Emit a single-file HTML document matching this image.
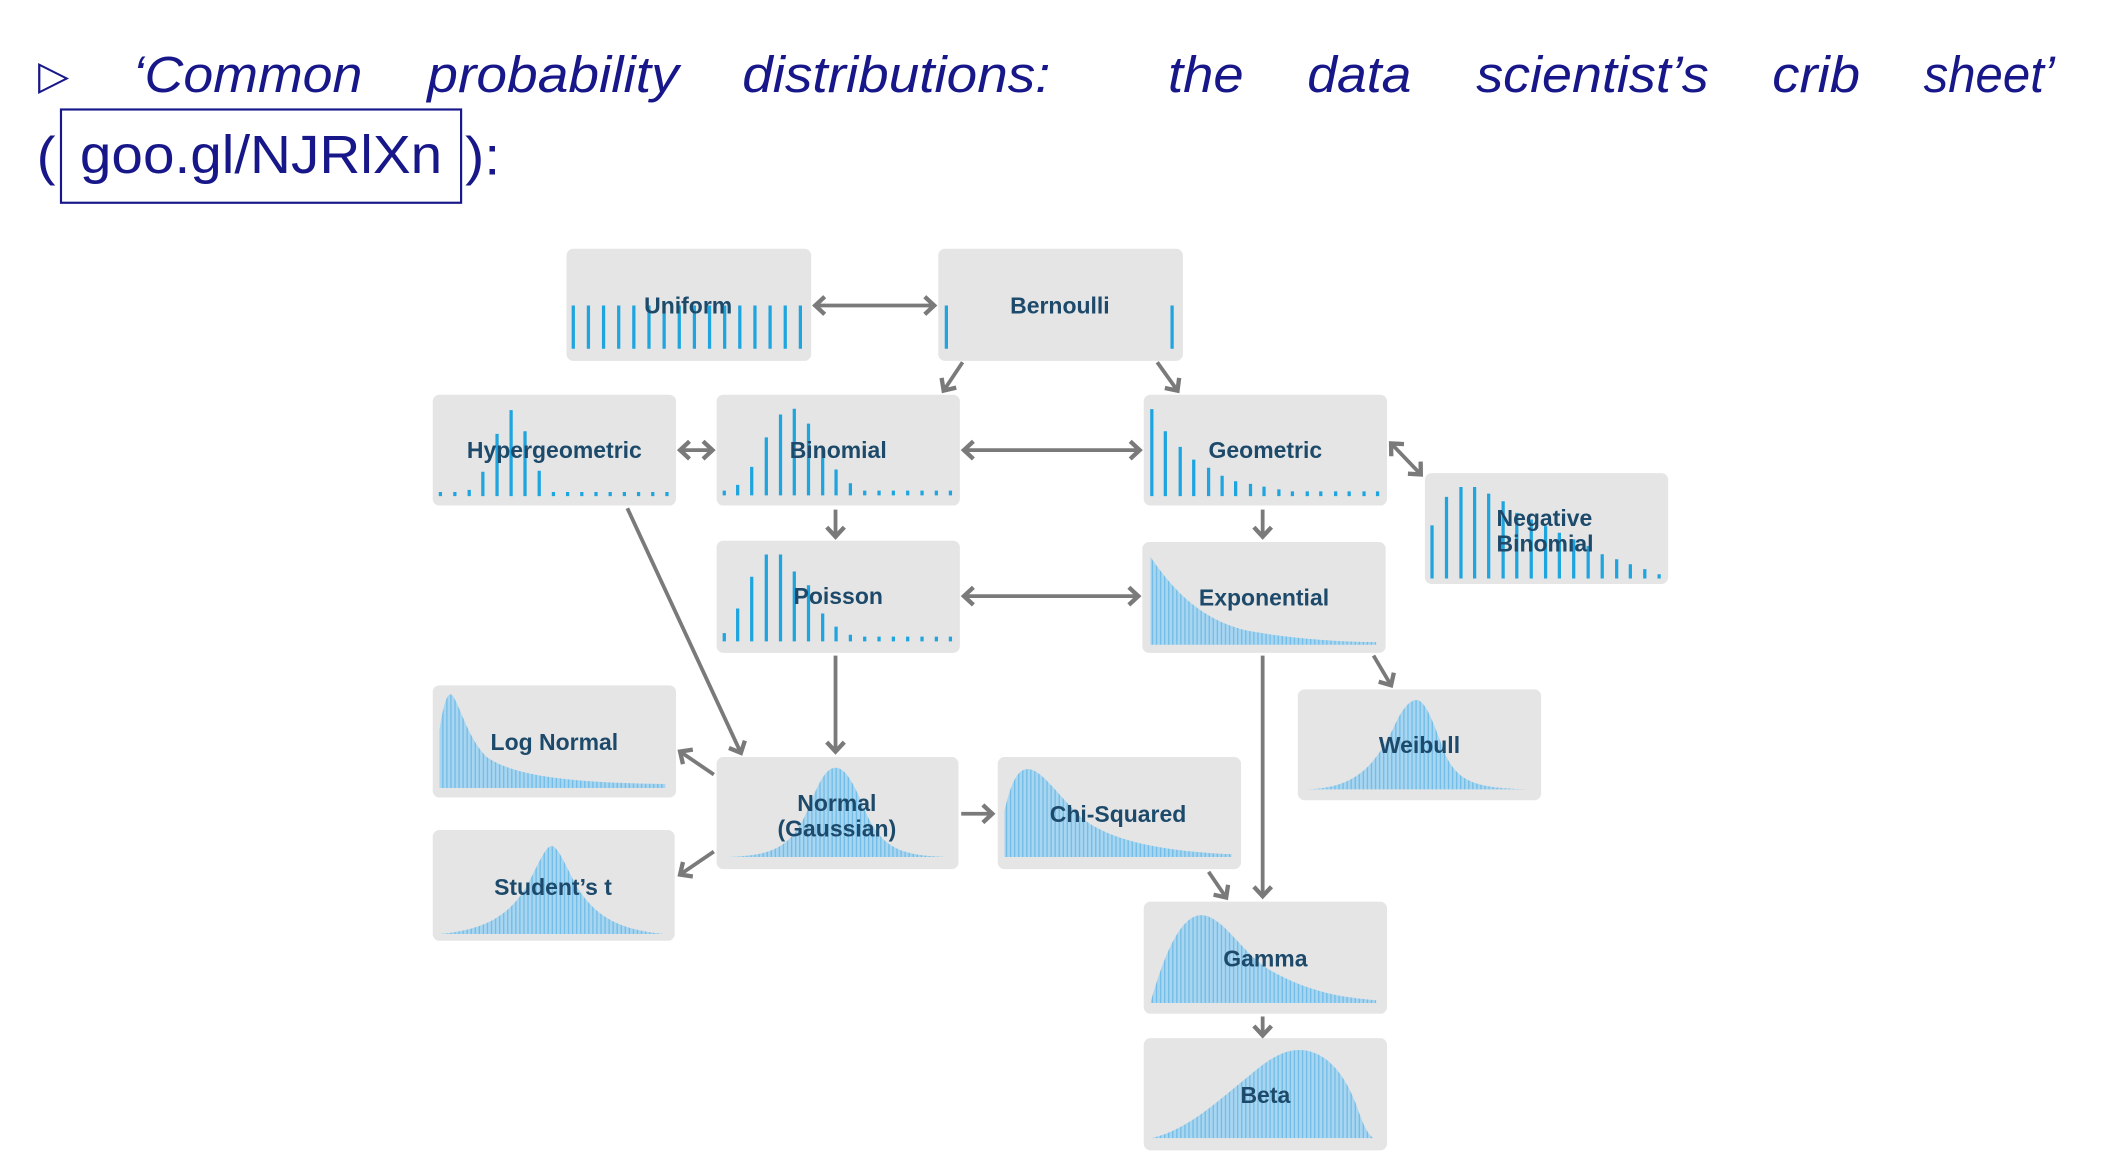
<!DOCTYPE html>
<html><head><meta charset="utf-8"><style>
html,body{margin:0;padding:0;background:#fff;width:2109px;height:1176px;overflow:hidden}
svg{display:block}
.b{fill:#e5e5e5}
.l{font-family:"Liberation Sans",sans-serif;font-weight:bold;font-size:17px;fill:#1d4a6a;text-anchor:middle}
.bar{stroke:#1ea4de;stroke-width:2.4;fill:none}
.c{fill:url(#hatch)}
.a{stroke:#7a7a7a;stroke-width:2.8;fill:none}
.t{font-family:"Liberation Sans",sans-serif;font-style:italic;font-size:38px;fill:#17178a}
.u{font-family:"Liberation Sans",sans-serif;font-size:40px;fill:#17178a}
</style></head><body>
<svg width="2109" height="1176" viewBox="0 0 1560 870" xmlns="http://www.w3.org/2000/svg">
<defs>
<pattern id="hatch" width="3" height="10" patternUnits="userSpaceOnUse">
<rect width="3" height="10" fill="#a8d5f0"/><rect width="1" height="10" fill="#74bde6"/>
</pattern>
<marker id="m" markerWidth="14" markerHeight="16" refX="9" refY="8" orient="auto-start-reverse" markerUnits="userSpaceOnUse">
<path d="M2,1.5 L9,8 L2,14.5" stroke="#7a7a7a" stroke-width="3.2" fill="none"/>
</marker>
</defs>

<text x="28" y="66" class="u" style="font-size:30px">▷</text>
<text x="98" y="68" class="t" textLength="170" lengthAdjust="spacingAndGlyphs">‘Common</text>
<text x="316" y="68" class="t" textLength="186" lengthAdjust="spacingAndGlyphs">probability</text>
<text x="549" y="68" class="t" textLength="228" lengthAdjust="spacingAndGlyphs">distributions:</text>
<text x="864" y="68" class="t" textLength="56" lengthAdjust="spacingAndGlyphs">the</text>
<text x="967" y="68" class="t" textLength="77" lengthAdjust="spacingAndGlyphs">data</text>
<text x="1092" y="68" class="t" textLength="172" lengthAdjust="spacingAndGlyphs">scientist’s</text>
<text x="1311" y="68" class="t" textLength="65" lengthAdjust="spacingAndGlyphs">crib</text>
<text x="1423" y="68" class="t" textLength="97" lengthAdjust="spacingAndGlyphs">sheet’</text>
<text x="27" y="129" class="u" textLength="14" lengthAdjust="spacingAndGlyphs">(</text>
<rect x="45" y="81" width="296" height="69" fill="none" stroke="#17178a" stroke-width="1.6"/>
<text x="59" y="128" class="u" textLength="268" lengthAdjust="spacingAndGlyphs">goo.gl/NJRlXn</text>
<text x="344" y="129" class="u" textLength="26" lengthAdjust="spacingAndGlyphs">):</text>

<rect class="b" x="419" y="184" width="181" height="83" rx="5"/>
<rect class="b" x="694" y="184" width="181" height="83" rx="5"/>
<rect class="b" x="320" y="292" width="180" height="82" rx="5"/>
<rect class="b" x="530" y="292" width="180" height="82" rx="5"/>
<rect class="b" x="846" y="292" width="180" height="82" rx="5"/>
<rect class="b" x="1054" y="350" width="180" height="82" rx="5"/>
<rect class="b" x="530" y="400" width="180" height="83" rx="5"/>
<rect class="b" x="845" y="401" width="180" height="82" rx="5"/>
<rect class="b" x="320" y="507" width="180" height="83" rx="5"/>
<rect class="b" x="960" y="510" width="180" height="82" rx="5"/>
<rect class="b" x="530" y="560" width="179" height="83" rx="5"/>
<rect class="b" x="738" y="560" width="180" height="83" rx="5"/>
<rect class="b" x="320" y="614" width="179" height="82" rx="5"/>
<rect class="b" x="846" y="667" width="180" height="83" rx="5"/>
<rect class="b" x="846" y="768" width="180" height="83" rx="5"/>

<path class="bar" d="M424,226V258M435.2,226V258M446.4,226V258M457.6,226V258M468.8,226V258M480,226V258M491.2,226V258M502.4,226V258M513.6,226V258M524.8,226V258M536,226V258M547.2,226V258M558.4,226V258M569.6,226V258M580.8,226V258M592,226V258"/>
<path class="bar" d="M700,226V258M867,226V258"/>
<path class="bar" d="M325.7,364V367M336.4,364V367M347,362.4V367M357.1,349V367M367.6,321V367M378,303.4V367M388.3,319V367M398.8,348.3V367M409.3,364V367M419.8,364V367M430.3,364V367M440.8,364V367M451.3,364V367M461.8,364V367M472.3,364V367M482.8,364V367M493.3,364V367"/>
<path class="bar" d="M535.7,363V366.5M545.6,358.7V366.5M556,345.4V366.5M566.8,323.6V366.5M577.3,306.6V366.5M587.5,302.4V366.5M598,313.4V366.5M608.5,332V366.5M618.4,347.3V366.5M629,357.5V366.5M639.6,363V366.5M650.2,363V366.5M660.8,363V366.5M671.4,363V366.5M682,363V366.5M692.6,363V366.5M703,363V366.5"/>
<path class="bar" d="M852,302.7V367M862,319V367M873,330.6V367M883,340V367M894,346V367M904,352V367M914,356V367M925,358V367M935,360V367M946,362V367M956,363.5V367M967,363.5V367M977,363.5V367M988,363.5V367M998,363.5V367M1009,363.5V367M1019,363.5V367"/>
<path class="bar" d="M1059.3,388.7V428M1070,367.6V428M1080.7,360.3V428M1090.8,360.3V428M1101.2,365.2V428M1111.9,370.8V428M1122,379.4V428M1132.7,384.3V428M1143.3,389.2V428M1153.5,394.1V428M1164.1,399V428M1174.8,403.9V428M1185.2,410V428M1195.9,413.7V428M1206,417.4V428M1216.7,421V428M1227.3,424.8V428"/>
<path class="bar" d="M535.7,468.4V474.5M545.6,450.2V474.5M556,426.7V474.5M566.8,410.2V474.5M577.3,410.2V474.5M587.5,422.8V474.5M598,433V474.5M608.5,453.9V474.5M618.4,463.6V474.5M629,469.6V474.5M639.6,471V474.5M650.2,471V474.5M660.8,471V474.5M671.4,471V474.5M682,471V474.5M692.6,471V474.5M703,471V474.5"/>

<path class="c" d="M851,477V412C870,440 890,458 920,466C950,472 990,475 1018,475V477Z"/>
<path class="c" d="M325,583V540C328,520 331,512 334,514C340,520 345,545 360,560C380,574 420,579 492,580V583Z"/>
<path class="c" d="M966,584C1000,583 1015,570 1030,540C1038,522 1044,517 1049,518C1056,520 1062,540 1070,560C1080,580 1095,583 1132,584Z"/>
<path class="c" d="M537,634C570,633 585,628 597,600C607,575 612,568 618,568C624,568 630,575 640,600C652,628 667,633 700,634Z"/>
<path class="c" d="M743,634V600C748,578 753,569 760,569C770,569 780,585 800,605C825,625 870,630 911,632V634Z"/>
<path class="c" d="M325,691C355,688 375,680 390,655C400,635 404,626 408,626C412,626 416,635 426,655C441,680 461,688 491,691Z"/>
<path class="c" d="M851,742C860,710 872,678 888,677C905,677 918,705 940,718C970,735 995,738 1018,740V742Z"/>
<path class="c" d="M852,842C880,835 900,815 925,795C945,778 955,776 965,777C985,780 998,800 1006,825C1010,836 1013,840 1016,842Z"/>

<text class="l" x="509" y="232">Uniform</text>
<text class="l" x="784" y="232">Bernoulli</text>
<text class="l" x="410" y="339">Hypergeometric</text>
<text class="l" x="620" y="339">Binomial</text>
<text class="l" x="936" y="339">Geometric</text>
<text class="l" x="1107" y="389" style="text-anchor:start">Negative</text>
<text class="l" x="1107" y="408" style="text-anchor:start">Binomial</text>
<text class="l" x="620" y="447">Poisson</text>
<text class="l" x="935" y="448">Exponential</text>
<text class="l" x="410" y="555">Log Normal</text>
<text class="l" x="1050" y="557">Weibull</text>
<text class="l" x="619" y="600">Normal</text>
<text class="l" x="619" y="619">(Gaussian)</text>
<text class="l" x="827" y="608">Chi-Squared</text>
<text class="l" x="409" y="662">Student’s t</text>
<text class="l" x="936" y="715">Gamma</text>
<text class="l" x="936" y="816">Beta</text>

<g class="a">
<path d="M603,226H691" marker-start="url(#m)" marker-end="url(#m)"/>
<path d="M712,268L698,289" marker-end="url(#m)"/>
<path d="M856,268L871,289" marker-end="url(#m)"/>
<path d="M503,333H527" marker-start="url(#m)" marker-end="url(#m)"/>
<path d="M713,333H843" marker-start="url(#m)" marker-end="url(#m)"/>
<path d="M1029,328L1051,351" marker-start="url(#m)" marker-end="url(#m)"/>
<path d="M618,377V397" marker-end="url(#m)"/>
<path d="M934,377V397" marker-end="url(#m)"/>
<path d="M713,441H842" marker-start="url(#m)" marker-end="url(#m)"/>
<path d="M1016,485L1029,507" marker-end="url(#m)"/>
<path d="M464,376L548,557" marker-end="url(#m)"/>
<path d="M618,485V556" marker-end="url(#m)"/>
<path d="M934,485V663" marker-end="url(#m)"/>
<path d="M528,573L503,556" marker-end="url(#m)"/>
<path d="M528,630L503,647" marker-end="url(#m)"/>
<path d="M711,602H734" marker-end="url(#m)"/>
<path d="M894,645L907,664" marker-end="url(#m)"/>
<path d="M934,752V766" marker-end="url(#m)"/>
</g>
</svg>
</body></html>
